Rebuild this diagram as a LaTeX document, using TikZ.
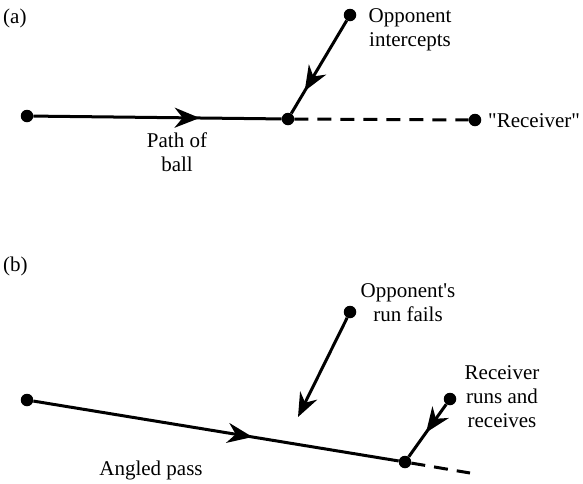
\documentclass[tikz,border=0pt]{standalone}
\usepackage{fontspec}
\setmainfont{Liberation Serif}
\usetikzlibrary{arrows.meta, decorations.markings}
\tikzset{
  dotnode/.style={circle, fill=black, inner sep=0pt, minimum size=12.5pt},
  textnode/.style={align=center, inner sep=0pt,
                   font=\fontsize{21}{24}\selectfont},
  tagnode/.style={anchor=west, inner sep=0pt,
                  font=\fontsize{21}{24}\selectfont},
  ballline/.style={line width=3pt},
  dashline/.style={line width=3pt, dash pattern=on 14pt off 9pt},
  midarrow/.style={ballline, postaction={decorate},
    decoration={markings, mark=at position #1 with
      {\arrow{Stealth[length=25pt, width=20pt, inset=8pt]}}}},
  endarrow/.style={ballline, -{Stealth[length=24pt, width=19pt, inset=8pt]}}
}
\begin{document}
\begin{tikzpicture}[x=1pt, y=-1pt]
  \useasboundingbox (0,0) rectangle (583,483);

  % (a) the intercepted pass
  \node[tagnode] (taga) at (3,18) {(a)};
  \node[dotnode] (kicka) at (27,116) {};
  \node[dotnode] (meeta) at (288,119) {};
  \node[dotnode] (reca) at (475,120) {};
  \node[dotnode] (oppa) at (350,15) {};
  \node[textnode] (oppatxt) at (410,30) {Opponent\\intercepts};
  \node[tagnode] (recatxt) at (488,121) {\textquotedbl Receiver\textquotedbl};
  \node[textnode] (balltxt) at (177,152) {Path of\\ball};

  \draw[midarrow=0.67] (kicka) -- (meeta);
  \draw[midarrow=0.76] (oppa) -- (meeta);
  \draw[dashline] (meeta) -- (reca);

  % (b) the angled pass
  \node[tagnode] (tagb) at (3,266) {(b)};
  \node[dotnode] (kickb) at (27,400) {};
  \node[dotnode] (meetb) at (405,462) {};
  \node[dotnode] (oppb) at (350,312) {};
  \node[dotnode] (recb) at (450,399) {};
  \coordinate (failb) at (298,417);
  \coordinate (endb) at (470,473);
  \node[textnode] (oppbtxt) at (408,303) {Opponent\textquotesingle s\\run fails};
  \node[textnode] (recbtxt) at (502,397) {Receiver\\runs and\\receives};
  \node[textnode] (passtxt) at (151,470) {Angled pass};

  \draw[midarrow=0.60] (kickb) -- (meetb);
  \draw[endarrow] (oppb) -- (failb);
  \draw[midarrow=0.54] (recb) -- (meetb);
  \draw[dashline] (meetb) -- (endb);
\end{tikzpicture}
\end{document}
